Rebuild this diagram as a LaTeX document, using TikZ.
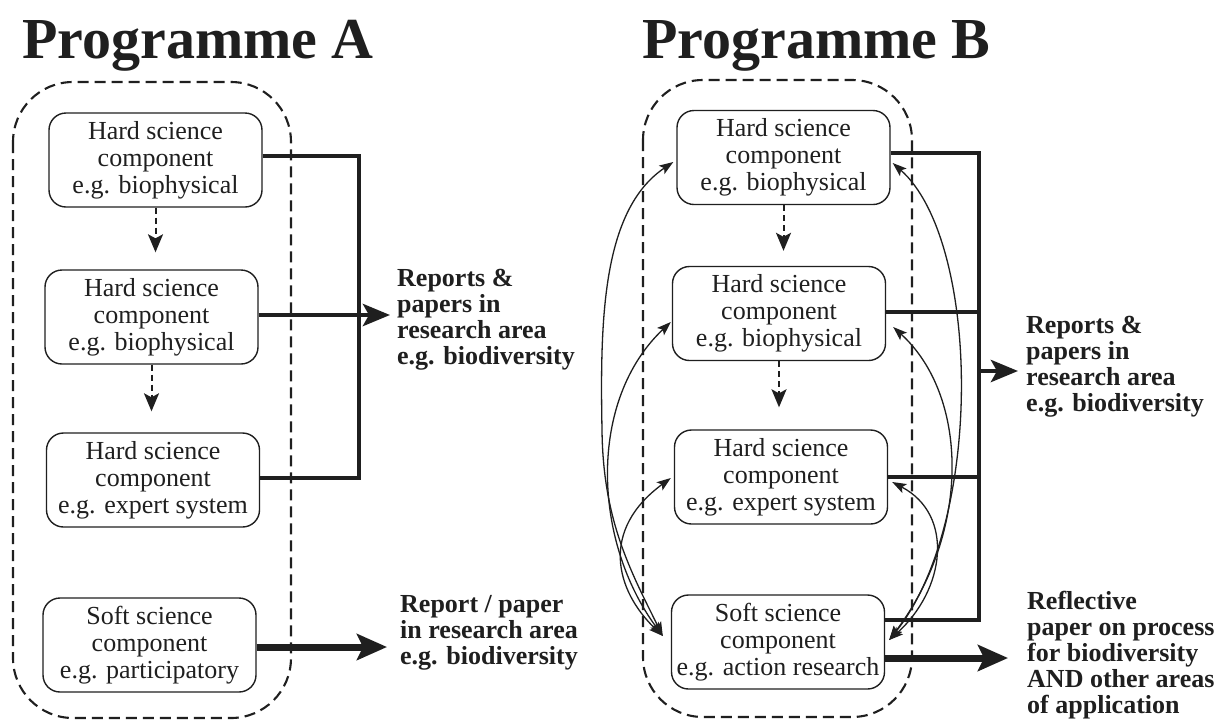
\documentclass[tikz,border=0pt]{standalone}
\usepackage{fontspec}
\setmainfont{Liberation Serif}
\usetikzlibrary{arrows.meta,calc}
\definecolor{ink}{gray}{0.12}

\begin{document}
\begin{tikzpicture}[x=1pt,y=-1pt,
  title/.style={font=\fontsize{58}{60}\selectfont\bfseries, text=ink, inner sep=0pt, anchor=base west},
  comp/.style={draw=ink, fill=white, line width=1.4pt, rounded corners=17pt,
    minimum width=213pt, minimum height=94pt, inner sep=0pt, align=center,
    font=\fontsize{26}{27}\selectfont, text=ink},
  outcome/.style={font=\fontsize{26}{26}\selectfont\bfseries, text=ink, inner sep=0pt,
    align=left, anchor=west},
  group/.style={draw=ink, line width=2.1pt, dash pattern=on 11pt off 6pt, rounded corners=60pt},
  bus/.style={draw=ink, line width=4.8pt, line join=miter},
  feed/.style={bus, -{Stealth[length=27pt,width=22pt,inset=6pt]}},
  heavy/.style={draw=ink, line width=7pt, -{Stealth[length=30pt,width=26pt,inset=6pt]}},
  flow/.style={draw=ink, line width=2pt, dash pattern=on 6pt off 4pt,
    -{Stealth[length=18pt,width=15pt,inset=4pt]}},
  link/.style={draw=ink, line width=1.3pt,
    {Stealth[length=14pt,width=10pt,inset=3pt]}-{Stealth[length=14pt,width=10pt,inset=3pt]}}
]
\fill[white] (0,0) rectangle (1220,721);
\useasboundingbox (0,0) rectangle (1220,721);

% titles
\node[title] (tA) at (22,58) {Programme A};
\node[title] (tB) at (642,58) {Programme B};

% programme frames
\draw[group] (13,82) rectangle (291,718);
\draw[group] (643,80) rectangle (912,717);

% ---------- Programme A ----------
\node[comp] (a1) at (155.5,160) {Hard science\\component\\e.g. biophysical};
\node[comp] (a2) at (151.5,317) {Hard science\\component\\e.g. biophysical};
\node[comp] (a3) at (153,480) {Hard science\\component\\e.g. expert system};
\node[comp] (a4) at (149.5,645) {Soft science\\component\\e.g. participatory};

\node[outcome] (repA) at (397,319.4) {Reports \&\\papers in\\research area\\e.g. biodiversity};
\node[outcome] (repA2) at (400,632.6) {Report / paper\\in research area\\e.g. biodiversity};

\draw[flow, shorten >=17pt] (a1.south) -- (a1.south |- a2.north);
\draw[flow, shorten >=21pt] (a2.south) -- (a2.south |- a3.north);

\coordinate (busAtop) at (359,156);
\coordinate (busAbot) at (359,478);
\draw[bus] ([yshift=4pt]a1.east) -- (busAtop) -- (busAbot) -- ([yshift=2pt]a3.east);
\draw[feed, shorten >=7pt] ([yshift=2pt]a2.east) -- ([yshift=2pt]a2.east -| repA.west);
\draw[heavy, shorten >=13pt] ([yshift=-2pt]a4.east) -- ([yshift=-2pt]a4.east -| repA2.west);

% ---------- Programme B ----------
\node[comp] (b1) at (783.5,157.5) {Hard science\\component\\e.g. biophysical};
\node[comp] (b2) at (779,313.5) {Hard science\\component\\e.g. biophysical};
\node[comp] (b3) at (781,477) {Hard science\\component\\e.g. expert system};
\node[comp] (b4) at (778,642) {Soft science\\component\\e.g. action research};

\node[outcome] (repB) at (1026,366.6) {Reports \&\\papers in\\research area\\e.g. biodiversity};
\node[outcome] (refB) at (1027,655.6) {Reflective\\paper on process\\for biodiversity\\AND other areas\\of application};

\draw[flow, shorten >=15pt] (b1.south) -- (b1.south |- b2.north);
\draw[flow, shorten >=22pt] (b2.south) -- (b2.south |- b3.north);

% two-way links between the soft component and each hard component
\coordinate (bl) at ([xshift=-8pt,yshift=6pt]b4.west);
\coordinate (br) at ([xshift=4pt,yshift=2pt]b4.east);
\coordinate (l1) at ([xshift=-3pt,yshift=-4.5pt]b1.west);
\coordinate (l2) at ([xshift=-1pt,yshift=-8.5pt]b2.west);
\coordinate (l3) at ([xshift=-3pt,yshift=-1pt]b3.west);
\coordinate (r1) at ([xshift=2pt,yshift=-5.5pt]b1.east);
\coordinate (r2) at ([xshift=7pt,yshift=-13.5pt]b2.east);
\coordinate (r3) at ([xshift=4pt,yshift=-5pt]b3.east);

\draw[link] (bl) .. controls (630,570) and (603,520) .. (602,430)
                 .. controls (600,320) and (602,210) .. (l1);
\draw[link] (bl) .. controls (592,540) and (588,400) .. (l2);
\draw[link] (bl) .. controls (615,590) and (600,530) .. (l3);
\draw[link] (br) .. controls (985,520) and (980,240) .. (r1);
\draw[link] (br) .. controls (972,530) and (968,395) .. (r2);
\draw[link] (br) .. controls (945,590) and (955,515) .. (r3);

\coordinate (busBtop) at (979,153);
\coordinate (busBbot) at (979,620);
\coordinate (busBmid) at (979,371);
\draw[bus] ([yshift=4.5pt]b1.east) -- (busBtop) -- (busBbot) -- ([yshift=22pt]b4.east);
\draw[bus] ([yshift=1.5pt]b2.east) -- ([yshift=1.5pt]b2.east -| busBtop);
\draw[bus] (b3.east) -- (b3.east -| busBtop);
\draw[feed, shorten >=8pt] (busBmid) -- (busBmid -| repB.west);
\draw[heavy, shorten >=19pt] ([yshift=-16pt]b4.east) -- ([yshift=-16pt]b4.east -| refB.west);
\end{tikzpicture}
\end{document}
